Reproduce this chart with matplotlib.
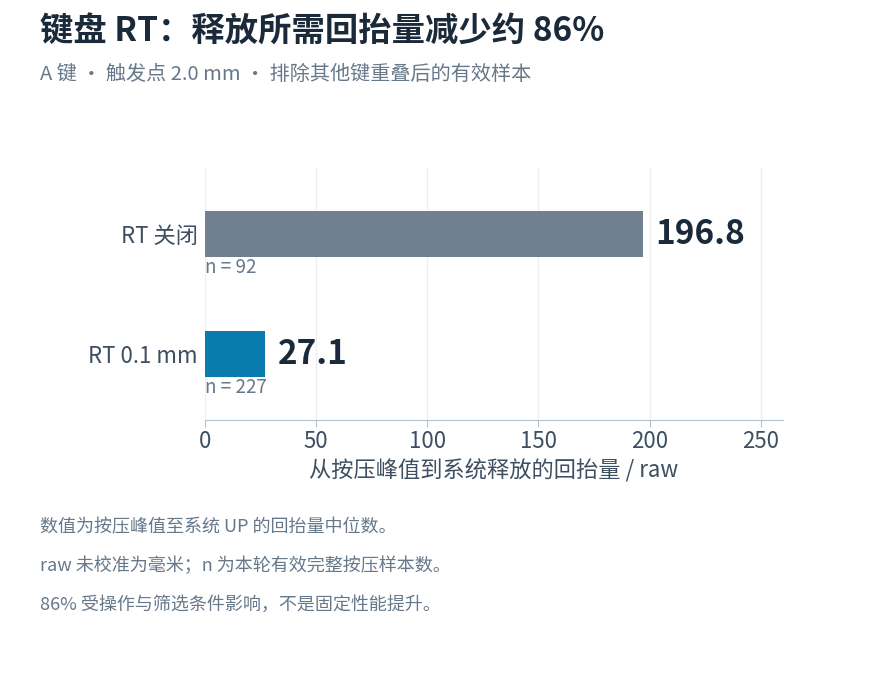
import matplotlib
matplotlib.use("Agg")
import matplotlib.pyplot as plt

plt.rcParams['font.family'] = ['Noto Sans CJK SC', 'DejaVu Sans']

# data
groups = ["RT 关闭", "RT 0.1 mm"]
medians = [196.8, 27.1]
counts = [92, 227]
bar_colors = ["#708090", "#0a7bad"]
x_ticks = [0, 50, 100, 150, 200, 250]

title = "键盘 RT：释放所需回抬量减少约 86%"
subtitle = "A 键 · 触发点 2.0 mm · 排除其他键重叠后的有效样本"
x_label = "从按压峰值到系统释放的回抬量 / raw"
notes = [
    "数值为按压峰值至系统 UP 的回抬量中位数。",
    "raw 未校准为毫米；n 为本轮有效完整按压样本数。",
    "86% 受操作与筛选条件影响，不是固定性能提升。",
]

dark = "#1b2a3a"
gray = "#66788a"
axis_txt = "#3d4f61"

fig = plt.figure(figsize=(8.9, 7.0), dpi=100)
ax = fig.add_axes([0.2303, 0.40, 0.6495, 0.36])

pos = list(range(len(groups)))
bar_h = 0.39
ax.barh(pos, medians, height=bar_h, color=bar_colors, zorder=3)

for i, (v, n) in enumerate(zip(medians, counts)):
    ax.annotate(f"{v:.1f}", (v, i), xytext=(9, 0), textcoords="offset points",
                va="center", ha="left", fontsize=24, fontweight="bold", color=dark)
    ax.annotate(f"n = {n}", (0, i + bar_h / 2), xytext=(0, 0), textcoords="offset points",
                va="top", ha="left", fontsize=13.5, color=gray)

ax.set_xlim(0, 260)
ax.set_ylim(1.55, -0.55)
ax.set_xticks(x_ticks)
ax.set_yticks(pos)
ax.set_yticklabels(groups)
ax.tick_params(axis="y", length=0, pad=5, labelsize=16, labelcolor=axis_txt)
ax.tick_params(axis="x", length=5, color="#b4c3d0", labelsize=16, labelcolor=axis_txt, pad=2)
ax.grid(axis="x", color="#eceff2", linewidth=1, zorder=0)
for s in ["top", "right", "left"]:
    ax.spines[s].set_visible(False)
ax.spines["bottom"].set_color("#b4c3d0")
ax.set_xlabel(x_label, fontsize=16, color=axis_txt, labelpad=5)

fig.text(40 / 890, 1 - 32 / 700, title, fontsize=24, fontweight="bold", color=dark,
         va="center", ha="left")
fig.text(40 / 890, 1 - 74 / 700, subtitle, fontsize=14.5, color=gray, va="center", ha="left")

for k, line in enumerate(notes):
    fig.text(40 / 890, 1 - (527 + 39 * k) / 700, line, fontsize=13, color=gray,
             va="center", ha="left")

fig.savefig("out.png", dpi=100)
